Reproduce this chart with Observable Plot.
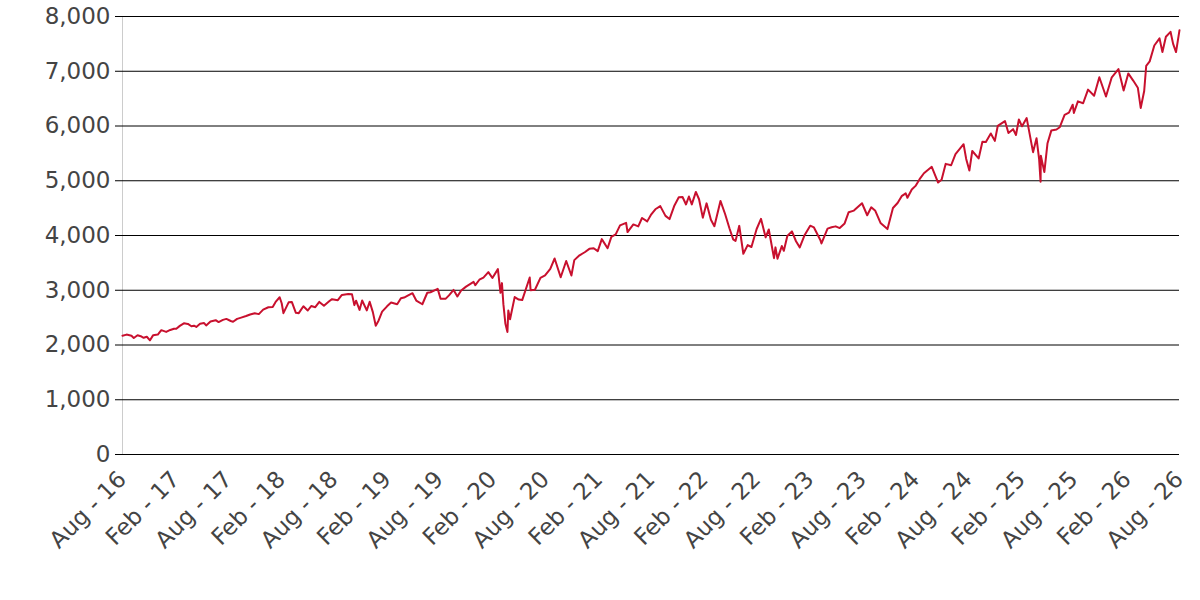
<!DOCTYPE html>
<html>
<head>
<meta charset="utf-8">
<script src="https://cdn.jsdelivr.net/npm/d3@7"></script>
<script src="https://cdn.jsdelivr.net/npm/@observablehq/plot@0.6"></script>
<style>
  html, body { margin: 0; padding: 0; background: #fff; }
  #chart { width: 1200px; height: 600px; }
</style>
</head>
<body>
<div id="chart"></div>
<script>
const dates = [
"2016-08-01","2016-08-15","2016-09-01","2016-09-09","2016-09-22","2016-10-03","2016-10-13","2016-10-24","2016-11-04","2016-11-15","2016-12-01","2016-12-13","2016-12-30",
"2017-01-13","2017-01-26","2017-02-03","2017-02-15","2017-03-01","2017-03-15","2017-03-27","2017-04-05","2017-04-13","2017-04-26","2017-05-10","2017-05-17","2017-06-01","2017-06-19","2017-06-29","2017-07-14","2017-07-26","2017-08-10","2017-08-18","2017-09-01","2017-09-15","2017-10-02","2017-10-16","2017-11-01","2017-11-15","2017-11-30","2017-12-18",
"2018-01-02","2018-01-12","2018-01-26","2018-02-02","2018-02-08","2018-02-26","2018-03-09","2018-03-23","2018-04-02","2018-04-18","2018-05-03","2018-05-15","2018-05-29","2018-06-12","2018-06-28","2018-07-16","2018-07-26","2018-08-15","2018-08-29","2018-09-20","2018-10-03","2018-10-11","2018-10-17","2018-10-29","2018-11-07","2018-11-23","2018-12-03","2018-12-14","2018-12-24",
"2019-01-03","2019-01-15","2019-02-01","2019-02-15","2019-03-08","2019-03-21","2019-04-01","2019-04-15","2019-04-30","2019-05-13","2019-06-03","2019-06-20","2019-07-01","2019-07-26","2019-08-05","2019-08-15","2019-08-23","2019-09-03","2019-09-19","2019-10-02","2019-10-15","2019-11-01","2019-11-27","2019-12-03","2019-12-17","2019-12-31",
"2020-01-17","2020-01-31","2020-02-19","2020-02-28","2020-03-04","2020-03-09","2020-03-16","2020-03-23","2020-03-26","2020-04-01","2020-04-17","2020-05-01","2020-05-13","2020-06-08","2020-06-11","2020-06-26","2020-07-15","2020-07-31","2020-08-18","2020-09-02","2020-09-23","2020-10-12","2020-10-30","2020-11-09","2020-11-27","2020-12-15","2020-12-31",
"2021-01-15","2021-01-29","2021-02-12","2021-03-04","2021-03-17","2021-04-01","2021-04-16","2021-05-07","2021-05-12","2021-06-01","2021-06-18","2021-07-01","2021-07-19","2021-08-02","2021-08-16","2021-09-02","2021-09-20","2021-10-04","2021-10-21","2021-11-05","2021-11-18","2021-11-30","2021-12-10","2021-12-20",
"2022-01-03","2022-01-14","2022-01-27","2022-02-09","2022-02-24","2022-03-08","2022-03-29","2022-04-14","2022-04-29","2022-05-12","2022-05-20","2022-06-02","2022-06-16","2022-07-01","2022-07-14","2022-08-01","2022-08-16","2022-09-01","2022-09-12","2022-09-30","2022-10-05","2022-10-12","2022-10-27","2022-11-03","2022-11-15","2022-12-01","2022-12-15","2022-12-28",
"2023-01-13","2023-02-02","2023-02-15","2023-03-09","2023-03-13","2023-04-03","2023-04-17","2023-05-01","2023-05-15","2023-06-01","2023-06-15","2023-07-03","2023-07-31","2023-08-18","2023-09-01","2023-09-15","2023-10-03","2023-10-27","2023-11-15","2023-12-01","2023-12-15","2023-12-29",
"2024-01-04","2024-01-19","2024-02-01","2024-02-15","2024-03-01","2024-03-28","2024-04-19","2024-05-01","2024-05-15","2024-06-03","2024-06-18","2024-07-16","2024-07-25","2024-08-05","2024-08-15","2024-09-06","2024-09-19","2024-10-01","2024-10-18","2024-11-01","2024-11-11","2024-12-06","2024-12-18",
"2025-01-03","2025-01-13","2025-01-23","2025-02-03","2025-02-19","2025-03-13","2025-03-25","2025-04-03","2025-04-08","2025-04-09","2025-04-21","2025-05-02","2025-05-15","2025-06-02","2025-06-13","2025-06-30","2025-07-15","2025-07-28","2025-08-01","2025-08-15","2025-09-02","2025-09-19","2025-10-10","2025-10-28","2025-11-20","2025-12-10",
"2026-01-02","2026-01-20","2026-02-05","2026-02-22","2026-03-10","2026-03-20","2026-04-01","2026-04-08","2026-04-20","2026-05-06","2026-05-24","2026-06-03","2026-06-15","2026-07-01","2026-07-10","2026-07-20","2026-08-01"
];
const values = [
2170,2190,2170,2128,2177,2161,2132,2151,2085,2180,2191,2271,2239,
2275,2297,2297,2349,2396,2385,2342,2352,2329,2387,2400,2357,2430,2453,2419,2459,2477,2438,2425,2477,2500,2529,2557,2579,2564,2647,2690,
2695,2786,2872,2762,2581,2779,2786,2588,2582,2708,2630,2711,2690,2787,2716,2798,2837,2818,2914,2930,2925,2728,2809,2641,2813,2633,2790,2600,2351,
2448,2610,2706,2775,2743,2854,2867,2905,2946,2812,2744,2954,2964,3025,2844,2847,2847,2906,3006,2887,2996,3066,3153,3093,3192,3231,
3330,3225,3386,2954,3130,2746,2386,2237,2630,2470,2875,2830,2820,3232,3002,3009,3227,3271,3390,3580,3237,3534,3270,3550,3638,3694,3756,
3768,3714,3934,3768,3975,4020,4185,4232,4063,4202,4166,4320,4258,4387,4479,4537,4358,4300,4549,4697,4704,4567,4712,4568,
4796,4662,4326,4587,4288,4170,4631,4392,4132,3930,3901,4176,3667,3825,3790,4119,4305,3966,4110,3586,3783,3577,3807,3720,3992,4076,3895,3783,
3999,4179,4147,3918,3855,4125,4151,4167,4136,4221,4426,4455,4589,4370,4515,4450,4229,4117,4502,4594,4719,4770,
4688,4840,4906,5029,5137,5254,4967,5018,5308,5283,5487,5667,5399,5186,5543,5408,5713,5709,5864,5728,6001,6090,5872,
5942,5836,6119,5994,6144,5522,5777,5396,4982,5457,5158,5686,5916,5936,5977,6205,6244,6389,6238,6450,6415,6664,6552,6890,6538,6890,
7040,6650,6960,6830,6700,6330,6640,7100,7180,7470,7600,7350,7630,7720,7500,7350,7750
];
const yTicks = [0,1000,2000,3000,4000,5000,6000,7000,8000];
const xTickDates = ["2016-08-01","2017-02-01","2017-08-01","2018-02-01","2018-08-01","2019-02-01","2019-08-01","2020-02-01","2020-08-01","2021-02-01","2021-08-01","2022-02-01","2022-08-01","2023-02-01","2023-08-01","2024-02-01","2024-08-01","2025-02-01","2025-08-01","2026-02-01","2026-08-01"];
const xTickLabels = ["Aug - 16","Feb - 17","Aug - 17","Feb - 18","Aug - 18","Feb - 19","Aug - 19","Feb - 20","Aug - 20","Feb - 21","Aug - 21","Feb - 22","Aug - 22","Feb - 23","Aug - 23","Feb - 24","Aug - 24","Feb - 25","Aug - 25","Feb - 26","Aug - 26"];

const data = dates.map((d, i) => ({date: new Date(d), value: values[i]}));
const tickDates = xTickDates.map(d => new Date(d));
const labelOf = new Map(tickDates.map((d, i) => [+d, xTickLabels[i]]));

const chart = Plot.plot({
  width: 1200,
  height: 600,
  marginLeft: 122,
  marginRight: 21,
  marginTop: 16,
  marginBottom: 146,
  style: {fontFamily: "DejaVu Sans", fontSize: "23px", background: "#fff"},
  x: {type: "utc", domain: [tickDates[0], tickDates[tickDates.length - 1]]},
  y: {domain: [0, 8000]},
  marks: [
    Plot.ruleX([tickDates[0]], {y1: 0, y2: 8000, stroke: "#cccccc", strokeWidth: 1}),
    Plot.ruleY(yTicks, {stroke: "#000", strokeWidth: 1}),
    Plot.axisY({ticks: yTicks, tickSize: 7, tickPadding: 5, stroke: "#000", fill: "#444", fontSize: 23,
      tickFormat: d => d3.format(",")(d), label: null}),
    Plot.axisX({ticks: tickDates, tickSize: 0, tickRotate: -45, tickPadding: 21, fill: "#444", fontSize: 23,
      tickFormat: d => labelOf.get(+d), label: null}),
    Plot.line(data, {x: "date", y: "value", stroke: "#c8102e", strokeWidth: 2})
  ]
});
document.getElementById("chart").appendChild(chart);
</script>
</body>
</html>
